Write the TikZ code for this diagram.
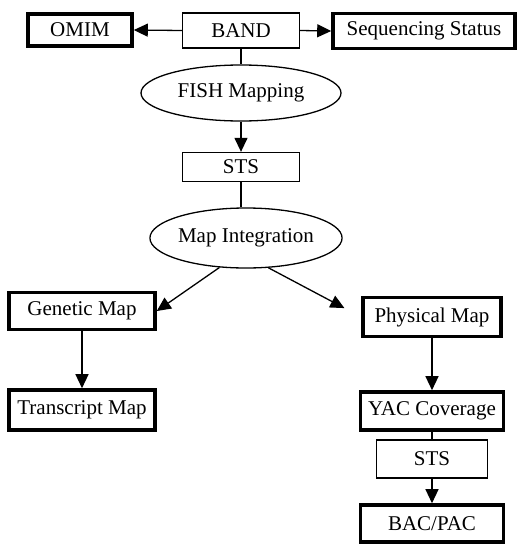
\documentclass[tikz,border=0pt]{standalone}
\usepackage{fontspec}
\setmainfont{Liberation Serif}
\usetikzlibrary{shapes.geometric,arrows.meta}
\begin{document}
\begin{tikzpicture}[x=1pt,y=-1pt,
  every node/.style={font=\fontsize{21}{25}\selectfont, inner sep=0pt, anchor=center},
  thinbox/.style={draw, line width=1.3pt, rectangle},
  thickbox/.style={draw, line width=3.6pt, rectangle},
  oval/.style={draw, line width=1.3pt, ellipse},
  link/.style={line width=1.3pt},
  arr/.style={line width=1.3pt, -{Triangle[length=14pt,width=13pt]}}]
\useasboundingbox (0,0) rectangle (528,544);

% top row
\node[thickbox, minimum width=104pt, minimum height=32pt] (omim) at (80,30) {OMIM};
\node[thinbox, minimum width=117pt, minimum height=35pt] (band) at (241,30.5) {BAND};
\node[thickbox, minimum width=182pt, minimum height=35pt] (seq) at (424,31) {Sequencing Status};

% central column
\node[oval, minimum width=200pt, minimum height=56pt] (fish) at (241,93) {FISH Mapping};
\node[thinbox, minimum width=117pt, minimum height=29pt] (sts) at (241,167) {STS};
\node[oval, minimum width=190pt, minimum height=60pt] (integ) at (246,238) {Map Integration};

% left branch
\node[thickbox, minimum width=146pt, minimum height=37pt] (genetic) at (82,311) {Genetic Map};
\node[thickbox, minimum width=146pt, minimum height=40pt] (transcript) at (82,410) {Transcript Map};

% right branch
\node[thickbox, minimum width=138pt, minimum height=39pt] (physical) at (432,317) {Physical Map};
\node[thickbox, minimum width=143pt, minimum height=38pt] (yac) at (432,411) {YAC Coverage};
\node[thinbox, minimum width=111pt, minimum height=38pt] (stsb) at (432,459) {STS};
\node[thickbox, minimum width=143pt, minimum height=37pt] (bac) at (432,523.5) {BAC/PAC};

% connectors
\draw[arr] (band.west) -- (omim.east);
\draw[arr] (band.east) -- (seq.west);
\draw[link] (band.south) -- (fish.north);
\draw[arr] (fish.south) -- (sts.north);
\draw[link] (sts.south) -- (sts.south |- integ.north);
\draw[arr] (integ.228) -- (genetic.east);
\draw[arr, shorten >=19pt] (integ.307) -- (physical.west);
\draw[arr] (genetic.south) -- (transcript.north);
\draw[arr] (physical.south) -- (yac.north);
\draw[link] (yac.south) -- (stsb.north);
\draw[arr] (stsb.south) -- (bac.north);
\end{tikzpicture}
\end{document}
